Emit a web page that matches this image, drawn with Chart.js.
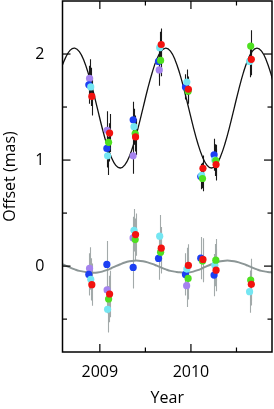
<!DOCTYPE html>
<html><head><meta charset="utf-8">
<script src="https://cdn.jsdelivr.net/npm/chart.js@4"></script>
<style>html,body{margin:0;padding:0;background:#fff}canvas{display:block}</style>
</head><body>
<canvas id="c" width="274" height="409"></canvas>
<script>
// ---- Data ----
const xTicks = [2009, 2010];
const xMinorTicks = [2009.5, 2010.5];
const yTicks = [0, 1, 2];
const yMinorTicks = [-0.5, 0.5, 1.5];

// model curves sampled every 0.05 yr
const curveYears = [2008.575,2008.625,2008.675,2008.725,2008.775,2008.825,2008.875,2008.925,2008.975,2009.025,2009.075,2009.125,2009.175,2009.225,2009.275,2009.325,2009.375,2009.425,2009.475,2009.525,2009.575,2009.625,2009.675,2009.725,2009.775,2009.825,2009.875,2009.925,2009.975,2010.025,2010.075,2010.125,2010.175,2010.225,2010.275,2010.325,2010.375,2010.425,2010.475,2010.525,2010.575,2010.625,2010.675,2010.725,2010.775,2010.825,2010.875,2010.925];
const modelTop = [1.865,1.968,2.037,2.055,2.022,1.940,1.812,1.655,1.48,1.305,1.150,1.028,0.950,0.925,0.955,1.036,1.162,1.320,1.495,1.670,1.826,1.950,2.029,2.055,2.027,1.947,1.822,1.665,1.49,1.315,1.158,1.033,0.953,0.925,0.953,1.033,1.158,1.315,1.49,1.665,1.822,1.947,2.027,2.055,2.027,1.947,1.822,1.665];
const modelBottom = [0.021,0.004,-0.014,-0.031,-0.045,-0.052,-0.059,-0.062,-0.060,-0.052,-0.038,-0.020,0.000,0.018,0.034,0.045,0.051,0.051,0.045,0.035,0.021,0.004,-0.014,-0.031,-0.045,-0.052,-0.059,-0.062,-0.060,-0.052,-0.038,-0.020,0.000,0.018,0.034,0.045,0.051,0.051,0.045,0.035,0.021,0.004,-0.014,-0.031,-0.045,-0.052,-0.059,-0.062];

const purpleX = [2008.887, 2009.080, 2009.365, 2009.652, 2009.953];
const purpleTop = [1.77, 1.28, 1.04, 1.85, null];
const purpleTopErr = [0.18, 0.18, 0.17, 0.15, null];
const purpleBottom = [-0.022, -0.225, 0.266, null, -0.185];
const purpleBottomErr = [0.2, 0.22, 0.2, null, 0.2];

const blueX = [2008.879, 2009.077, 2009.366, 2009.644, 2009.940, 2010.108, 2010.254];
const blueTop = [1.71, 1.11, 1.38, 1.93, 1.69, 0.845, 1.05];
const blueTopErr = [0.18, 0.18, 0.17, 0.15, 0.12, 0.12, 0.15];
const blueBottom = [-0.078, 0.016, -0.012, 0.072, -0.078, 0.075, -0.085];
const blueBottomErr = [0.2, 0.22, 0.2, 0.2, 0.2, 0.2, 0.2];

const cyanX = [2008.900, 2009.085, 2009.375, 2009.657, 2009.955, 2010.118, 2010.262, 2010.644];
const cyanTop = [1.69, 1.04, 1.315, 2.06, 1.735, 0.855, 1.00, 1.93];
const cyanTopErr = [0.18, 0.18, 0.17, 0.15, 0.12, 0.12, 0.15, 0.15];
const cyanBottom = [-0.125, -0.407, 0.338, 0.282, -0.028, null, 0.009, -0.241];
const cyanBottomErr = [0.2, 0.22, 0.2, 0.2, 0.2, null, 0.2, 0.2];

const greenX = [2009.096, 2009.388, 2009.667, 2009.969, 2010.127, 2010.273, 2010.656];
const greenTop = [1.167, 1.25, 1.94, 1.65, 0.826, 0.995, 2.075];
const greenTopErr = [0.18, 0.17, 0.15, 0.12, 0.12, 0.15, 0.15];
const greenBottom = [-0.31, 0.25, 0.131, -0.116, 0.047, 0.056, -0.131];
const greenBottomErr = [0.22, 0.2, 0.2, 0.2, 0.2, 0.2, 0.2];

const redX = [2008.912, 2009.107, 2009.392, 2009.674, 2009.972, 2010.132, 2010.276, 2010.663];
const redTop = [1.60, 1.255, 1.218, 2.09, 1.668, 0.923, 0.958, 1.95];
const redTopErr = [0.18, 0.18, 0.17, 0.15, 0.12, 0.12, 0.15, 0.15];
const redBottom = [-0.175, -0.263, 0.297, 0.169, 0.006, 0.063, -0.038, -0.172];
const redBottomErr = [0.2, 0.22, 0.2, 0.2, 0.2, 0.2, 0.2, 0.2];

// ---- Build ----
const FONT = {family: '"Open Sans", sans-serif', size: 16};
const series = [
  {name:'purple', color:'#a583ef', x:purpleX, top:purpleTop, topErr:purpleTopErr, bot:purpleBottom, botErr:purpleBottomErr, order:5},
  {name:'blue', color:'#1c3ff2', x:blueX, top:blueTop, topErr:blueTopErr, bot:blueBottom, botErr:blueBottomErr, order:4},
  {name:'cyan', color:'#74e6f2', x:cyanX, top:cyanTop, topErr:cyanTopErr, bot:cyanBottom, botErr:cyanBottomErr, order:3},
  {name:'green', color:'#4ee020', x:greenX, top:greenTop, topErr:greenTopErr, bot:greenBottom, botErr:greenBottomErr, order:2},
  {name:'red', color:'#f2120f', x:redX, top:redTop, topErr:redTopErr, bot:redBottom, botErr:redBottomErr, order:1}
];

const datasets = [
  {data: curveYears.map((t,i)=>({x:t,y:modelTop[i]})), showLine:true, pointRadius:0, borderColor:'#111', borderWidth:1.3, tension:0.4, order:10},
  {data: curveYears.map((t,i)=>({x:t,y:modelBottom[i]})), showLine:true, pointRadius:0, borderColor:'#8c9696', borderWidth:2, tension:0.4, order:11}
];
series.forEach(s=>{
  const pts = [];
  s.x.forEach((t,i)=>{
    if (s.top[i]!==null) pts.push({x:t,y:s.top[i],e:s.topErr[i],g:0});
    if (s.bot[i]!==null) pts.push({x:t,y:s.bot[i],e:s.botErr[i],g:1});
  });
  datasets.push({data:pts, showLine:false, pointRadius:3.6, pointHoverRadius:3.6, pointBorderWidth:0, backgroundColor:s.color, borderColor:s.color, order:s.order});
});

const errPlugin = {
  id:'errbars',
  beforeDatasetsDraw(chart){
    const {ctx, scales:{x,y}} = chart;
    ctx.save();
    const a = chart.chartArea;
    ctx.beginPath(); ctx.rect(a.left,a.top,a.right-a.left,a.bottom-a.top); ctx.clip();
    ctx.lineWidth = 1.1;
    chart.data.datasets.forEach(ds=>{
      ds.data.forEach(p=>{
        if (p.e===undefined) return;
        ctx.strokeStyle = p.g===0 ? '#1a1a1a' : '#a3aaaa';
        const px = Math.round(x.getPixelForValue(p.x))+0.5;
        ctx.beginPath();
        ctx.moveTo(px, y.getPixelForValue(p.y+p.e));
        ctx.lineTo(px, y.getPixelForValue(p.y-p.e));
        ctx.stroke();
      });
    });
    ctx.restore();
  }
};

const framePlugin = {
  id:'frame',
  afterDatasetsDraw(chart){
    const {ctx, chartArea:a, scales:{x,y}} = chart;
    ctx.save();
    ctx.strokeStyle = '#000';
    ctx.lineWidth = 1.5;
    ctx.strokeRect(a.left, a.top, a.right-a.left, a.bottom-a.top);
    ctx.lineWidth = 1.2;
    const seg=(x1,y1,x2,y2)=>{ctx.beginPath();ctx.moveTo(x1,y1);ctx.lineTo(x2,y2);ctx.stroke();};
    const vt=(v,len)=>{const p=x.getPixelForValue(v); seg(p,a.bottom,p,a.bottom-len); seg(p,a.top,p,a.top+len);};
    const ht=(v,len)=>{const p=y.getPixelForValue(v); seg(a.left,p,a.left+len,p); seg(a.right,p,a.right-len,p);};
    xTicks.forEach(v=>vt(v,8)); xMinorTicks.forEach(v=>vt(v,4.5));
    yTicks.forEach(v=>ht(v,8)); yMinorTicks.forEach(v=>ht(v,4.5));
    ctx.restore();
  }
};

new Chart(document.getElementById('c'), {
  type:'scatter',
  data:{datasets},
  plugins:[errPlugin, framePlugin],
  options:{
    responsive:false, animation:false, devicePixelRatio:1,
    layout:{padding:{top:1,right:2,left:0,bottom:0}, autoPadding:false},
    plugins:{legend:{display:false}, tooltip:{enabled:false}},
    events:[],
    scales:{
      x:{type:'linear', min:2008.59, max:2010.89,
        afterBuildTicks:s=>{s.ticks = xTicks.map(v=>({value:v}));},
        afterFit:s=>{s.height=57; s.paddingLeft=0; s.paddingRight=0;},
        grid:{display:false}, border:{display:false},
        ticks:{font:FONT, color:'#000', padding:3, maxRotation:0, autoSkip:false, callback:v=>String(v)},
        title:{display:true, text:'Year', font:FONT, color:'#000', padding:{top:0,bottom:1}}
      },
      y:{type:'linear', min:-0.81, max:2.5,
        afterBuildTicks:s=>{s.ticks = yTicks.map(v=>({value:v}));},
        afterFit:s=>{s.width=62.5; s.paddingTop=0; s.paddingBottom=0;},
        grid:{display:false}, border:{display:false},
        ticks:{font:FONT, color:'#000', padding:10, autoSkip:false, callback:v=>String(v)},
        title:{display:true, text:'Offset (mas)', font:FONT, color:'#000', padding:{top:1,bottom:0}}
      }
    }
  }
});
</script>
</body></html>
